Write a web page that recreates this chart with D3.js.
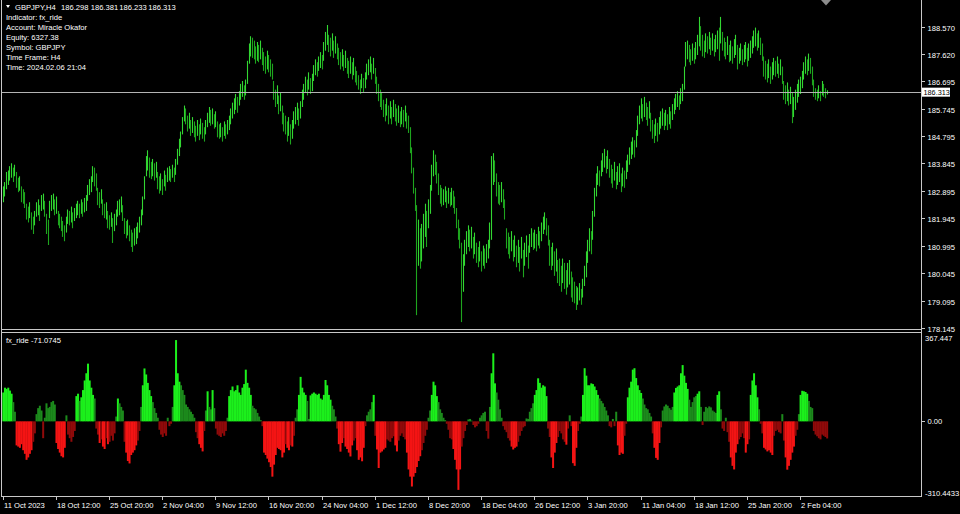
<!DOCTYPE html>
<html><head><meta charset="utf-8">
<script src="https://cdn.jsdelivr.net/npm/d3@7/dist/d3.min.js"></script>
<style>html,body{margin:0;padding:0;background:#000;overflow:hidden}svg{display:block}</style>
</head><body>
<svg id="c" width="960" height="514"></svg>
<script>
const priceHigh = [
183.05,183.20,183.55,183.60,183.75,183.85,183.70,183.80,183.55,183.35,
183.40,183.05,182.95,182.85,182.45,182.35,182.50,182.15,182.00,182.20,
182.50,182.60,182.40,182.75,182.80,182.55,182.10,181.90,182.55,182.75,
182.80,182.60,182.70,182.20,182.10,182.00,181.85,181.70,182.00,182.25,
182.20,182.35,182.15,182.30,182.45,182.55,182.45,182.60,182.50,182.65,
182.75,183.10,183.30,183.40,183.75,183.70,183.50,183.00,182.85,182.95,
182.60,182.45,182.50,182.20,182.05,182.15,181.95,182.10,182.25,182.55,
182.60,182.70,182.40,181.95,181.85,181.90,181.70,181.55,181.45,181.60,
181.65,181.80,182.00,182.25,182.70,183.40,184.10,184.30,184.05,183.90,
184.00,183.85,183.90,183.55,183.40,183.50,183.30,183.60,183.45,183.70,
183.75,183.65,183.80,183.70,184.00,184.35,184.70,184.95,185.45,185.85,
185.75,185.50,185.60,185.35,185.45,185.30,185.15,185.35,185.20,185.40,
185.25,185.10,185.35,185.60,185.80,185.70,185.75,185.55,185.65,185.30,
185.20,185.25,185.10,185.30,185.20,185.35,185.50,185.75,185.95,186.10,
186.25,186.15,186.35,186.60,186.70,186.55,186.75,187.40,188.00,188.25,
188.20,188.10,187.90,188.05,187.95,188.10,187.85,187.70,187.55,187.75,
187.60,187.45,187.30,186.70,186.40,186.55,186.20,186.30,185.85,185.60,
185.50,185.30,185.45,185.20,185.35,185.65,185.80,185.95,185.75,186.00,
186.40,186.60,186.85,186.75,187.00,186.80,186.95,187.25,187.45,187.35,
187.55,187.70,187.60,188.05,188.40,188.64,188.30,188.20,188.35,188.10,
188.25,188.00,187.85,187.70,187.80,187.60,187.75,187.50,187.40,187.55,
187.35,187.50,187.20,187.05,186.90,186.75,186.95,186.80,187.00,187.30,
187.45,187.55,187.30,187.50,187.15,186.85,186.60,186.40,186.30,186.05,
185.90,186.10,185.85,186.00,185.80,186.05,185.90,185.75,185.85,185.65,
185.80,185.70,185.85,185.60,185.50,185.10,184.40,183.70,183.00,182.40,
181.90,181.60,181.75,182.10,182.45,182.20,182.60,183.10,183.80,184.30,
184.15,183.90,183.50,183.10,183.00,182.95,183.05,182.90,183.00,182.85,
183.00,182.90,182.70,182.30,181.90,181.60,181.10,180.70,181.20,181.50,
181.70,181.55,181.65,181.30,181.45,181.10,180.95,181.15,180.80,181.00,
180.90,181.05,181.20,181.80,184.10,184.20,183.95,183.50,183.20,183.10,
183.20,182.95,182.60,181.60,181.45,181.30,181.50,181.20,181.35,181.00,
181.20,180.95,181.30,180.85,181.10,181.35,181.00,181.40,181.60,181.45,
181.55,181.40,181.65,181.50,181.80,182.00,182.15,181.95,181.70,181.20,
180.95,181.10,180.80,180.90,180.50,180.55,180.30,180.55,180.40,180.15,
180.40,180.50,180.10,179.90,179.75,179.60,179.55,179.70,179.50,179.85,
180.30,180.80,181.20,181.60,181.50,182.20,183.00,183.50,183.75,183.60,
183.95,184.20,184.35,184.10,184.30,184.00,183.80,183.65,183.90,183.55,
183.75,183.85,183.50,183.70,183.60,183.95,184.15,184.40,184.60,184.75,
184.65,185.00,185.50,185.85,186.10,185.90,186.15,185.95,185.80,186.00,
185.60,185.35,185.20,185.40,185.25,185.45,185.65,185.75,185.60,185.70,
185.55,185.80,185.65,185.90,186.10,186.25,186.35,186.20,186.45,186.60,
187.20,188.05,188.10,187.95,187.80,188.00,187.85,188.05,188.30,188.92,
188.60,188.30,188.10,188.35,188.25,188.40,188.20,188.35,188.15,188.30,
188.45,188.55,188.92,188.40,188.20,188.05,188.25,187.95,188.10,187.90,
188.15,188.30,187.95,187.85,188.00,187.80,187.95,188.05,187.85,188.00,
188.10,188.25,188.45,188.55,188.35,188.45,188.20,188.00,187.55,187.40,
187.30,187.45,187.20,187.35,187.50,187.40,187.55,187.30,187.45,187.20,
186.70,186.55,186.65,186.40,186.50,186.30,186.15,186.40,186.60,186.75,
186.85,187.05,187.35,187.55,187.45,187.65,187.50,187.20,186.75,186.45,
186.40,186.55,186.35,186.70,186.60,186.45,186.381
];
const priceLow = [
182.50,182.70,182.95,183.10,183.25,183.35,183.20,183.40,183.00,182.85,
182.90,182.50,182.45,182.30,181.90,181.80,181.95,181.55,181.40,181.70,
182.00,182.05,181.85,182.20,182.25,182.00,181.40,181.02,181.95,182.20,
182.25,182.05,182.10,181.70,181.60,181.50,181.30,181.15,181.45,181.75,
181.70,181.80,181.60,181.85,181.95,182.05,181.95,182.10,182.00,182.15,
182.20,182.55,182.75,182.85,183.20,183.05,182.90,182.40,182.30,182.45,
182.05,181.95,181.90,181.60,181.55,181.65,181.09,181.50,181.70,182.00,
182.05,182.15,181.85,181.40,181.25,181.35,181.15,180.95,180.78,181.00,
181.05,181.25,181.45,181.70,182.05,182.60,183.40,183.60,183.35,183.30,
183.40,183.25,183.35,182.95,182.80,182.90,182.75,183.05,182.90,183.20,
183.25,183.20,183.35,183.20,183.45,183.80,184.10,184.40,184.85,185.30,
185.20,184.95,185.05,184.80,184.90,184.75,184.60,184.80,184.65,184.85,
184.70,184.60,184.85,185.10,185.25,185.15,185.20,185.05,185.10,184.75,
184.70,184.75,184.60,184.80,184.70,184.85,185.00,185.20,185.40,185.55,
185.70,185.60,185.85,186.05,186.15,186.05,186.20,186.60,187.30,187.55,
187.50,187.45,187.30,187.40,187.35,187.45,187.25,187.05,186.95,187.10,
187.00,186.85,186.75,186.05,185.80,185.90,185.55,185.65,185.20,184.95,
184.85,184.60,184.80,184.50,184.70,185.05,185.20,185.35,185.15,185.40,
185.80,186.05,186.30,186.20,186.40,186.25,186.35,186.70,186.90,186.85,
187.05,187.15,187.10,187.40,187.75,187.95,187.70,187.55,187.75,187.50,
187.65,187.45,187.25,187.10,187.20,187.05,187.15,186.95,186.80,186.95,
186.75,186.90,186.65,186.55,186.40,186.25,186.45,186.30,186.45,186.75,
186.90,187.00,186.75,186.95,186.60,186.25,186.00,185.80,185.70,185.45,
185.30,185.50,185.20,185.40,185.20,185.45,185.30,185.15,185.25,185.10,
185.20,185.10,185.30,185.05,184.90,184.20,183.50,182.80,182.20,178.59,
180.30,180.20,180.45,180.90,181.30,180.95,181.60,182.10,182.90,183.40,
183.45,183.15,182.75,182.45,182.35,182.40,182.50,182.30,182.45,182.35,
182.40,182.30,182.10,181.60,181.20,180.90,178.35,179.40,180.30,180.70,
180.95,180.80,180.90,180.55,180.70,180.40,180.25,180.45,180.10,180.30,
180.20,180.40,180.55,180.90,181.20,183.10,183.20,182.70,182.45,182.40,
182.50,182.30,181.90,180.90,180.70,180.55,180.80,180.45,180.60,180.25,
180.40,180.10,180.55,179.90,180.30,180.60,180.20,180.75,180.95,180.85,
180.90,180.80,181.00,180.90,181.15,181.40,181.55,181.35,181.00,180.30,
180.15,180.30,179.95,180.10,179.70,179.60,179.40,179.70,179.50,179.30,
179.55,179.65,179.20,179.05,179.00,178.77,178.95,179.10,178.95,179.20,
179.60,179.90,180.40,180.80,180.70,181.20,182.00,182.70,183.10,183.05,
183.40,183.55,183.70,183.50,183.65,183.35,183.15,183.00,183.25,182.95,
183.10,183.20,182.85,183.05,183.00,183.30,183.55,183.80,184.00,184.15,
184.05,184.40,184.80,185.20,185.40,185.30,185.45,185.35,185.15,185.40,
184.95,184.70,184.55,184.80,184.60,184.85,185.05,185.15,185.00,185.15,
185.00,185.20,185.05,185.35,185.55,185.70,185.80,185.70,185.90,186.00,
186.40,187.20,187.45,187.35,187.25,187.40,187.30,187.45,187.60,187.90,
187.75,187.55,187.50,187.70,187.65,187.80,187.60,187.75,187.55,187.70,
187.80,187.40,188.00,187.75,187.55,187.45,187.60,187.35,187.40,187.30,
187.50,187.60,187.10,187.30,187.40,187.25,187.35,187.45,187.20,187.40,
187.50,187.65,187.85,187.90,187.75,187.85,187.60,187.40,186.85,186.75,
186.65,186.80,186.60,186.75,186.90,186.85,186.95,186.80,186.90,186.60,
186.05,185.90,186.00,185.85,185.90,185.24,185.45,185.70,185.95,186.15,
186.25,186.45,186.75,186.95,186.90,187.05,186.95,186.55,186.15,186.05,
186.00,186.10,186.00,186.20,186.15,186.10,186.233
];
const fxRide = [
120,140,135,140,128,115,80,40,-100,-105,
-110,-95,-120,-135,-160,-150,-135,-120,-85,-50,
30,55,65,45,-70,15,75,55,60,80,
85,70,-90,-115,-130,-145,-150,-110,25,-55,
-70,-85,-65,-40,105,115,85,100,130,170,
200,240,170,140,110,95,-30,-55,-90,-75,
-105,-115,-70,-95,-85,-60,-80,-50,20,95,
75,60,45,-85,-130,-165,-175,-140,-130,-120,
-100,-80,-40,60,150,220,195,160,130,105,
80,55,35,15,-35,-55,-65,-50,-60,15,
-20,-10,60,150,338,200,165,150,130,110,
70,60,50,40,30,15,-45,-70,-95,-110,
-125,-40,45,125,60,50,130,55,-30,-55,
-60,-65,-50,-60,-40,15,105,130,145,125,
130,150,120,110,140,155,215,160,140,110,
65,55,50,35,20,5,-20,-130,-140,-155,
-170,-190,-230,-180,-140,-110,-115,-120,-150,-130,
-95,-110,-120,-100,-105,-60,15,50,110,185,
140,120,110,85,10,108,115,120,115,110,
115,95,90,110,172,150,110,90,65,50,
20,-30,-95,-126,-90,-70,-105,-115,-130,-146,
-100,-80,-70,-120,-160,-150,-166,-110,-20,25,
40,50,80,110,-60,-117,-194,-130,-125,-117,
-110,-75,-80,-85,-70,-62,-100,-125,-80,-60,
-50,-65,-75,-130,-200,-230,-271,-230,-215,-190,
-165,-145,-120,-90,-60,-35,15,45,110,165,
150,105,80,50,35,15,5,-10,-35,-70,
-75,-115,-160,-200,-285,-200,-105,-70,-40,-15,
8,10,3,-15,-25,-20,-10,15,25,35,
40,-40,-72,60,200,283,158,120,90,50,
15,-20,-35,-45,-70,-80,-105,-117,-110,-105,
-85,-60,-40,-25,-20,12,10,40,55,75,
110,130,179,160,140,150,145,105,-30,-65,
-150,-194,-130,-90,-65,-40,-50,-75,-85,-97,
-30,25,-20,-174,-185,-110,-40,-10,20,110,
221,190,150,150,158,155,145,130,110,95,
85,75,60,45,25,-20,-25,10,-20,40,
-100,-140,-130,-135,-60,-10,100,140,165,215,
221,180,150,130,118,95,70,55,50,35,
20,-50,-110,-152,-160,-90,-25,45,62,70,
65,55,48,60,120,139,145,150,200,234,
190,160,135,90,60,80,100,105,115,125,
60,-15,40,60,55,62,58,45,40,35,
110,125,50,-30,-40,15,-45,-85,-150,-185,
-200,-130,-95,-75,-65,-50,-70,-130,-95,-75,
110,170,200,150,100,50,-10,-50,-110,-117,
-125,-120,-130,-140,-60,-40,-35,-45,-50,30,
-80,-150,-201,-185,-160,-130,-105,-60,-35,30,
110,127,125,122,115,85,60,55,-40,-55,
-62,-70,-75,-55,-60,-65,-71.0745
];
const priceTickLabels = ["188.570","187.620","186.695","185.745","184.795","183.845","182.895","181.945","180.995","180.045","179.095","178.145"];
const timeLabels = ["11 Oct 2023","18 Oct 12:00","25 Oct 20:00","2 Nov 04:00","9 Nov 12:00","16 Nov 20:00","24 Nov 04:00","1 Dec 12:00","8 Dec 20:00","18 Dec 04:00","26 Dec 12:00","3 Jan 20:00","11 Jan 04:00","18 Jan 12:00","25 Jan 20:00","2 Feb 04:00"];
const barsPerTimeLabel = 32;
const headerSymbol = "GBPJPY,H4";
const headerQuote = ["186.298","186.381","186.233","186.313"];
const infoLines = ["Indicator: fx_ride","Account: Miracle Okafor","Equity: 6327.38","Symbol: GBPJPY","Time Frame: H4","Time: 2024.02.06 21:04"];
const lastPrice = 186.313;
const indName = "fx_ride";
const indLast = -71.0745;
const indMax = 367.447, indMin = -310.4433;
const indTickLabels = ["367.447","0.00","-310.4433"];

const svg = d3.select("#c");
const FONT = "'Liberation Sans', Arial, sans-serif";
const FS = 7.6;
const FRAME = "#c8c8c8";
const n = priceHigh.length;

const x = d3.scaleLinear().domain([0, n - 1]).range([2.7, 2.7 + (n - 1) * 1.661]);
const y = d3.scaleLinear().domain([178.145, 188.570]).range([328, 27]);
const yi = d3.scaleLinear().domain([indMin, indMax]).range([496, 333]);

svg.append("rect").attr("width", 960).attr("height", 514).attr("fill", "#000");

// price bars
const mids = priceHigh.map((h, i) => (h + priceLow[i]) / 2);
svg.append("g").selectAll("line").data(priceHigh).join("line")
  .attr("x1", (d, i) => Math.round(x(i)) + 0.5)
  .attr("x2", (d, i) => Math.round(x(i)) + 0.5)
  .attr("y1", d => y(d))
  .attr("y2", (d, i) => y(priceLow[i]))
  .attr("stroke", (d, i) => (i === 0 || mids[i] >= mids[i - 1]) ? "#32d632" : "#1ea51e")
  .attr("stroke-width", 1.1);

// histogram
let runPeak = 0, prevSign = 0;
const tones = fxRide.map(v => {
  const s = Math.sign(v);
  if (s !== prevSign) { runPeak = 0; prevSign = s; }
  runPeak = Math.max(runPeak, Math.abs(v));
  return Math.abs(v) >= 90 && Math.abs(v) >= 0.45 * runPeak;
});
svg.append("g").selectAll("rect").data(fxRide).join("rect")
  .attr("x", (d, i) => x(i) - 0.4)
  .attr("width", 2)
  .attr("y", d => Math.min(yi(0), yi(d)))
  .attr("height", d => Math.abs(yi(d) - yi(0)))
  .attr("fill", (d, i) => d >= 0 ? (tones[i] ? "#1cf01c" : "#1c8a1c") : (tones[i] ? "#f41414" : "#900a0a"));

// frames
const fr = svg.append("g").attr("stroke", FRAME).attr("stroke-width", 1).attr("fill", "none");
fr.append("line").attr("x1", 1.5).attr("x2", 1.5).attr("y1", 0).attr("y2", 497);
fr.append("line").attr("x1", 921.5).attr("x2", 921.5).attr("y1", 0).attr("y2", 497);
fr.append("line").attr("x1", 1.5).attr("x2", 921.5).attr("y1", 329.5).attr("y2", 329.5);
fr.append("line").attr("x1", 1.5).attr("x2", 921.5).attr("y1", 332.5).attr("y2", 332.5);
fr.append("line").attr("x1", 1.5).attr("x2", 921.5).attr("y1", 496.5).attr("y2", 496.5);

// last price line
svg.append("line").attr("x1", 2).attr("x2", 921).attr("y1", Math.round(y(lastPrice)) + 0.5).attr("y2", Math.round(y(lastPrice)) + 0.5)
  .attr("stroke", "#b4b4b4").attr("stroke-width", 1);

// price axis
const pa = svg.append("g");
priceTickLabels.forEach(t => {
  const yy = Math.round(y(+t)) + 0.5;
  pa.append("line").attr("x1", 921.5).attr("x2", 925).attr("y1", yy).attr("y2", yy).attr("stroke", FRAME);
  pa.append("text").attr("x", 927.5).attr("y", yy + 3).attr("fill", "#fff")
    .attr("font-family", FONT).attr("font-size", FS).text(t);
});
const ly = y(lastPrice);
pa.append("rect").attr("x", 922).attr("y", ly - 4.5).attr("width", 28).attr("height", 9).attr("fill", "#fff");
pa.append("text").attr("x", 923.5).attr("y", ly + 3).attr("fill", "#000")
  .attr("font-family", FONT).attr("font-size", 7.3).text(lastPrice.toFixed(3));

// indicator axis
const ia = svg.append("g").attr("font-family", FONT).attr("font-size", FS).attr("fill", "#fff");
ia.append("text").attr("x", 925).attr("y", yi(indMax) + 8).text(indTickLabels[0]);
ia.append("line").attr("x1", 921.5).attr("x2", 925).attr("y1", Math.round(yi(0)) + 0.5).attr("y2", Math.round(yi(0)) + 0.5).attr("stroke", FRAME);
ia.append("text").attr("x", 927.5).attr("y", yi(0) + 3).text(indTickLabels[1]);
ia.append("text").attr("x", 925).attr("y", yi(indMin) - 0.5).text(indTickLabels[2]);
ia.append("text").attr("x", 6).attr("y", 342.5).text(indName + " " + indLast);

// time axis
const ta = svg.append("g");
timeLabels.forEach((t, k) => {
  const xx = Math.round(x(k * barsPerTimeLabel)) + 0.5;
  ta.append("line").attr("x1", xx).attr("x2", xx).attr("y1", 496.5).attr("y2", 500).attr("stroke", FRAME);
  ta.append("text").attr("x", xx + 0.5).attr("y", 507.5).attr("fill", "#fff")
    .attr("font-family", FONT).attr("font-size", FS).text(t);
});

// header info
const hd = svg.append("g").attr("font-family", FONT).attr("font-size", FS).attr("fill", "#fff");
hd.append("path").attr("d", "M6,5 L10,5 L8,8 Z").attr("fill", "#fff");
hd.append("text").attr("x", 15).attr("y", 9.5).text(headerSymbol);
const qx = [61, 90.7, 119.3, 148.3];
headerQuote.forEach((q, k) => hd.append("text").attr("x", qx[k]).attr("y", 9.5).text(q));
infoLines.forEach((t, k) => hd.append("text").attr("x", 6).attr("y", 19.5 + k * 10).text(t));

// chart shift marker
svg.append("path").attr("d", "M821,0 L831,0 L826,5.5 Z").attr("fill", "#8c8c8c");
</script>
</body></html>
